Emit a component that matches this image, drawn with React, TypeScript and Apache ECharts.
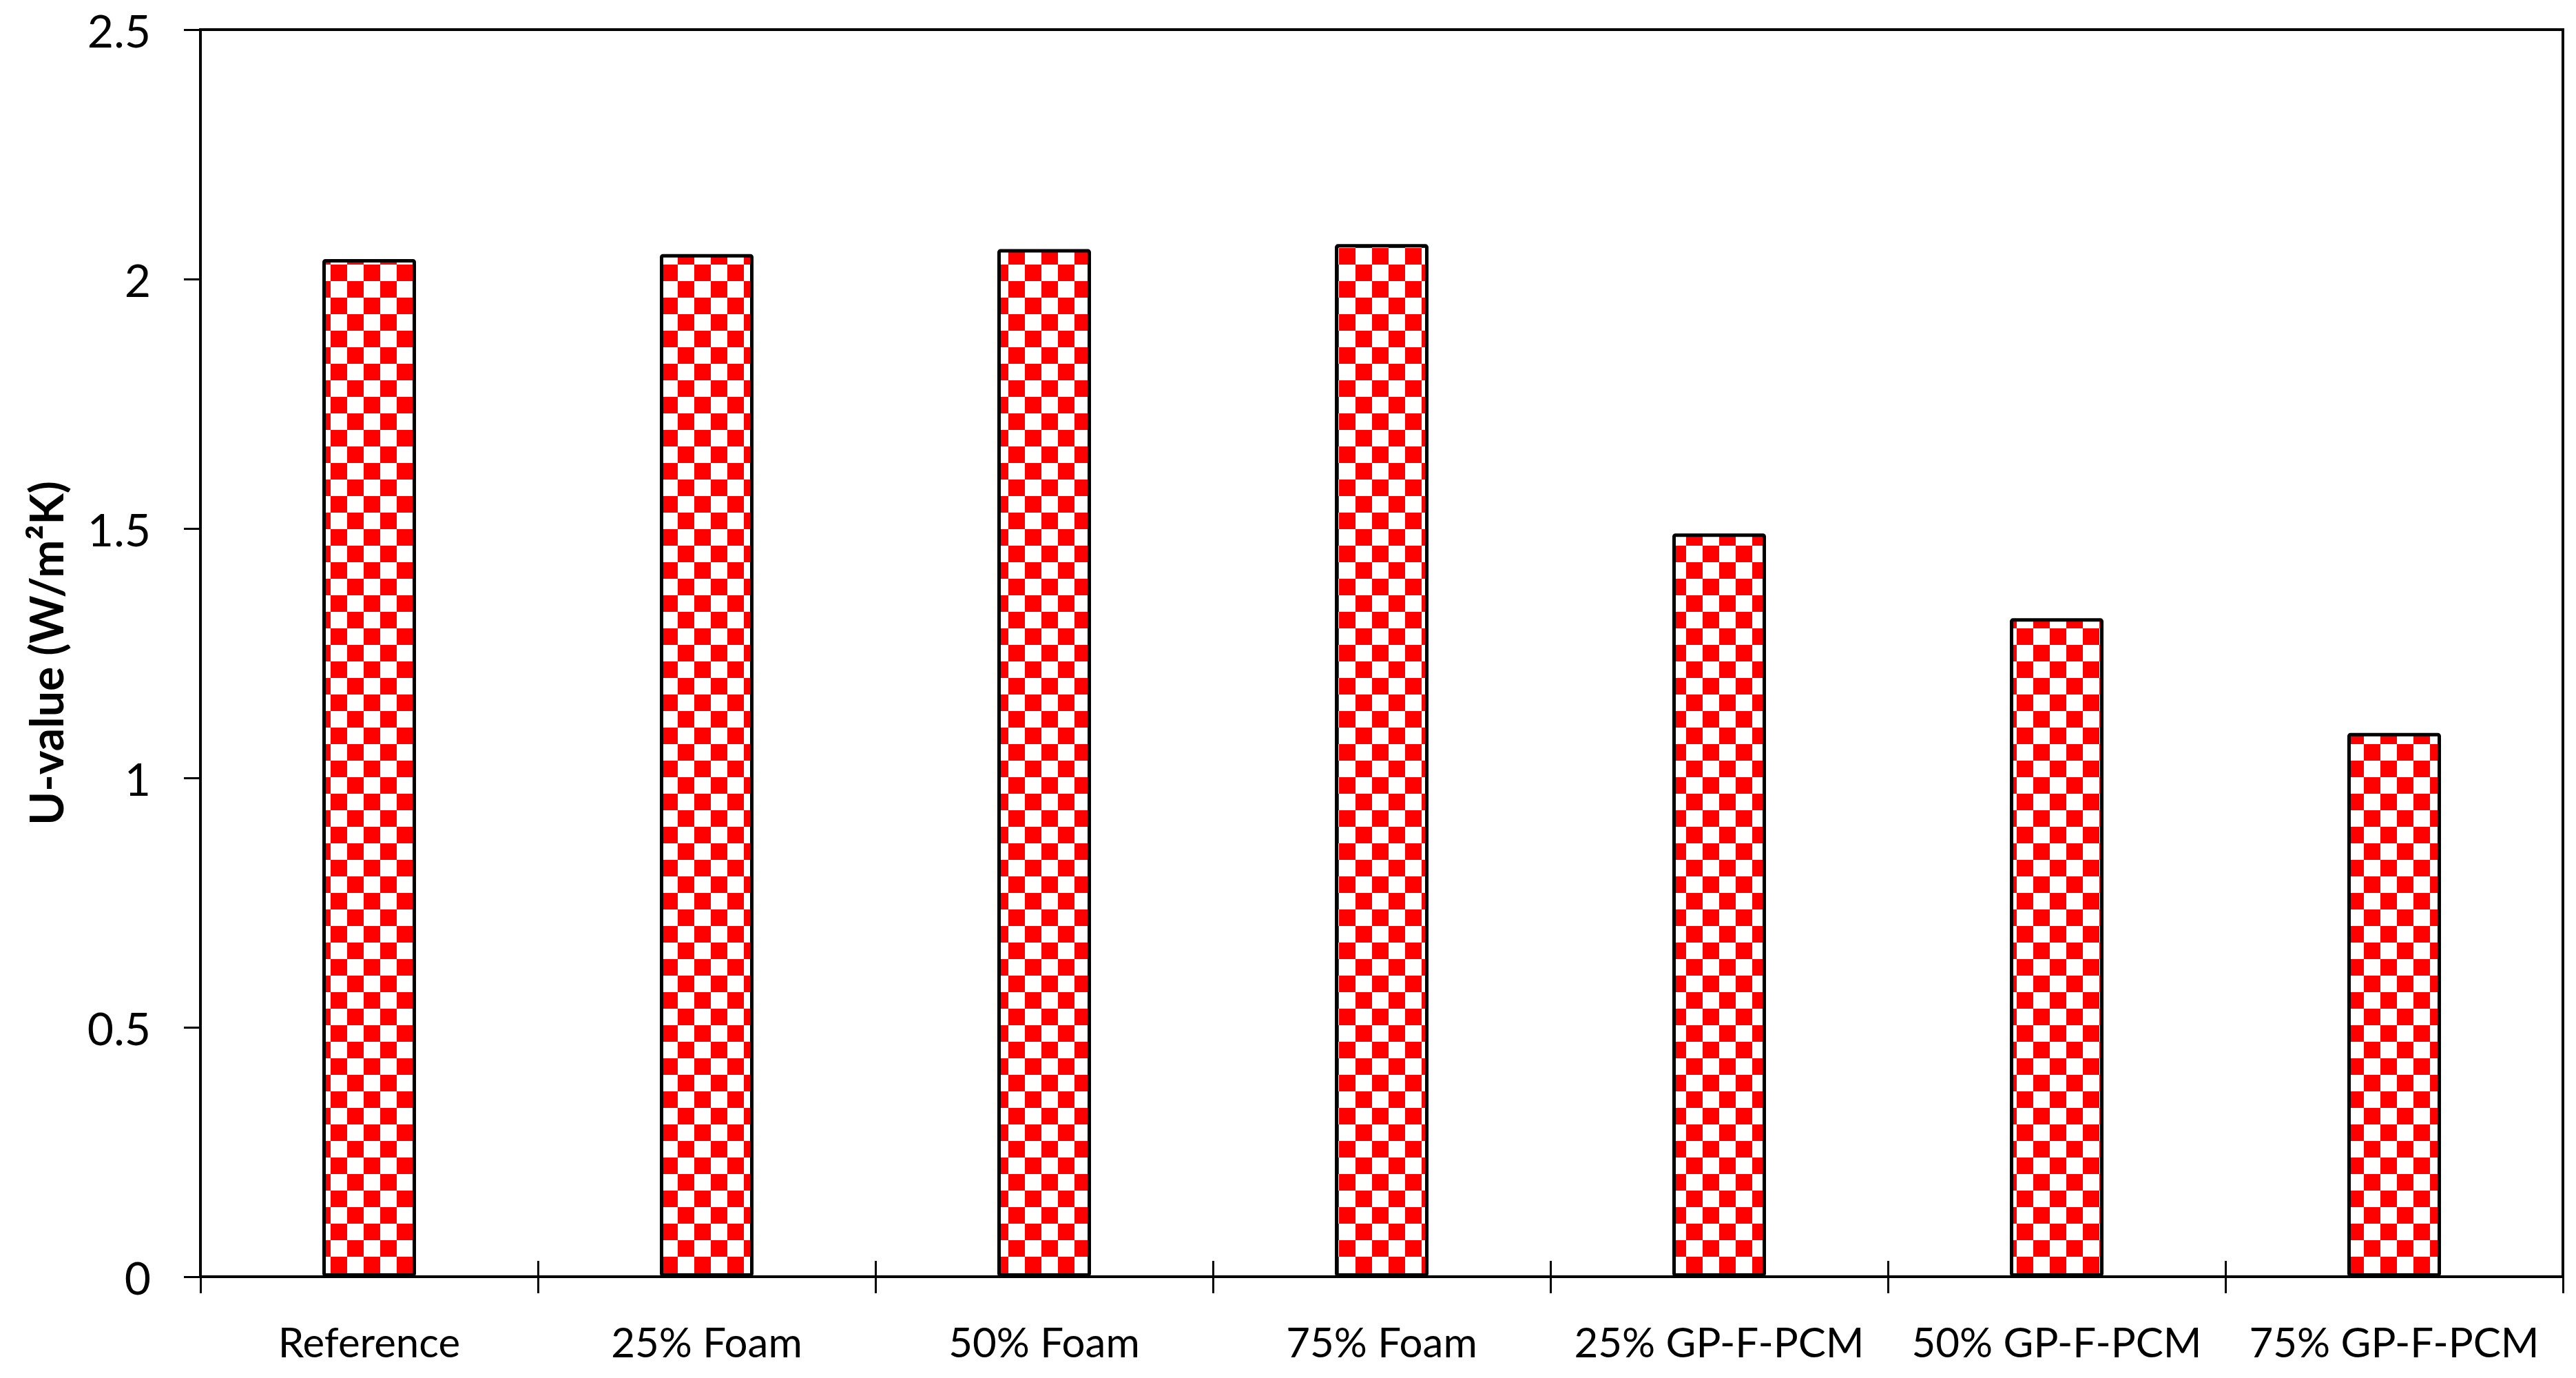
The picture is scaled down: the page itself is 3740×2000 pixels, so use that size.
import React, { useEffect, useRef } from "react";
import * as echarts from "echarts";

const categories = [
  "Reference",
  "25% Foam",
  "50% Foam",
  "75% Foam",
  "25% GP-F-PCM",
  "50% GP-F-PCM",
  "75% GP-F-PCM",
];
const uValues = [2.04, 2.05, 2.06, 2.07, 1.49, 1.32, 1.09];
const yAxisTitle = "U-value (W/m²K)";

function makeChecker(): HTMLCanvasElement {
  const c = document.createElement("canvas");
  const s = 24;
  c.width = s * 2;
  c.height = s * 2;
  const ctx = c.getContext("2d")!;
  ctx.fillStyle = "#ffffff";
  ctx.fillRect(0, 0, s * 2, s * 2);
  ctx.fillStyle = "#ff0000";
  ctx.fillRect(0, 0, s, s);
  ctx.fillRect(s, s, s, s);
  return c;
}

export default function App() {
  const ref = useRef<HTMLDivElement>(null);
  useEffect(() => {
    if (!ref.current) return;
    const chart = echarts.init(ref.current, null, { renderer: "svg" });
    const font = "Lato, 'Open Sans', sans-serif";
    chart.setOption({
      animation: false,
      backgroundColor: "#ffffff",
      grid: {
        left: 291,
        right: 19,
        top: 43,
        bottom: 147,
        show: true,
        borderColor: "#000",
        borderWidth: 4,
      },
      xAxis: [
        {
          type: "category",
          data: categories,
          axisLine: { lineStyle: { color: "#000", width: 4 } },
          axisTick: { show: true, length: 24, lineStyle: { color: "#000", width: 3 } },
          axisLabel: { color: "#000", fontSize: 60, fontFamily: font, margin: 64, interval: 0 },
        },
        {
          type: "category",
          data: categories,
          position: "bottom",
          axisLine: { show: false },
          axisTick: { show: true, inside: true, length: 23, lineStyle: { color: "#000", width: 3 } },
          axisLabel: { show: false },
        },
      ],
      yAxis: {
        type: "value",
        min: 0,
        max: 2.5,
        interval: 0.5,
        name: yAxisTitle,
        nameLocation: "middle",
        nameGap: 192,
        nameTextStyle: { color: "#000", fontSize: 66, fontWeight: "bold", fontFamily: font },
        axisLine: { show: true, lineStyle: { color: "#000", width: 4 } },
        axisTick: { show: true, length: 24, lineStyle: { color: "#000", width: 3 } },
        axisLabel: { color: "#000", fontSize: 66, lineHeight: 66, fontFamily: font, margin: 72 },
        splitLine: { show: false },
      },
      series: [
        {
          type: "bar",
          data: uValues,
          barWidth: 136,
          itemStyle: {
            color: { image: makeChecker(), repeat: "repeat", imageWidth: 48, imageHeight: 48 },
            borderColor: "#000",
            borderWidth: 5,
            borderRadius: 2,
          },
        },
      ],
    });
    return () => chart.dispose();
  }, []);
  return (
    <div
      ref={ref}
      style={{ position: "absolute", left: 0, top: 0, width: 3740, height: 2000 }}
    />
  );
}
